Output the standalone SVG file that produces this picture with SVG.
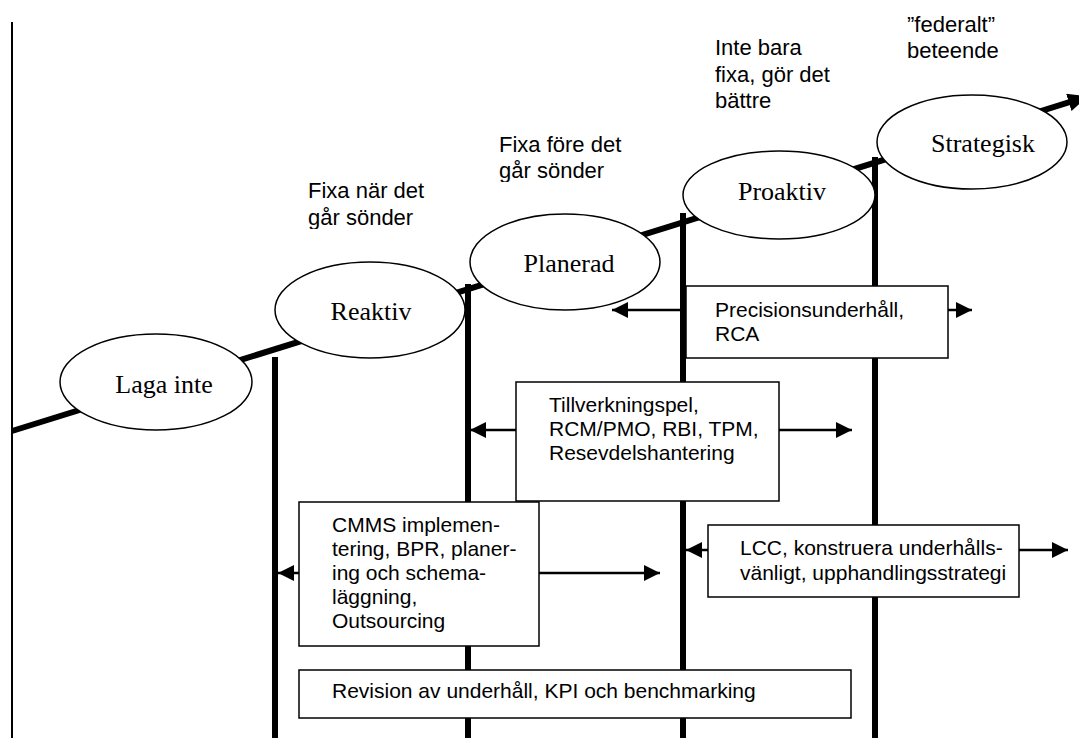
<svg xmlns="http://www.w3.org/2000/svg" width="1079" height="738" viewBox="0 0 1079 738">
  <defs>
    <marker id="arr" viewBox="0 0 16 16" refX="16" refY="8" markerWidth="16" markerHeight="16" markerUnits="userSpaceOnUse" orient="auto">
      <path d="M0,0 L16,8 L0,16 Z" fill="#000"/>
    </marker>
    <marker id="bigarr" viewBox="0 0 20 18" refX="18" refY="9" markerWidth="20" markerHeight="18" markerUnits="userSpaceOnUse" orient="auto">
      <path d="M0,0 L20,9 L0,18 Z" fill="#000"/>
    </marker>
    <clipPath id="clipA"><rect x="290" y="160" width="180" height="69"/></clipPath>
    <clipPath id="clipB"><rect x="480" y="110" width="180" height="72"/></clipPath>
    <style>
      .ell { fill: #fff; stroke: #000; stroke-width: 1.5; }
      .etxt { font-family: "Liberation Serif", "Times New Roman", serif; font-size: 26px; fill: #000; text-anchor: middle; }
      .lbl { font-family: "Liberation Sans", Arial, sans-serif; font-size: 22px; fill: #000; }
      .btxt { font-family: "Liberation Sans", Arial, sans-serif; font-size: 21px; fill: #000; }
      .box { fill: #fff; stroke: #000; stroke-width: 1.5; }
      .post { stroke: #000; stroke-width: 6; fill: none; }
      .arrow { stroke: #000; stroke-width: 2.5; fill: none; marker-end: url(#arr); }
    </style>
  </defs>
  <rect width="1079" height="738" fill="#fff"/>

  <!-- axis -->
  <line x1="12" y1="22" x2="12" y2="738" stroke="#000" stroke-width="2"/>

  <g id="connectors">
    <!-- rising maturity line -->
    <line x1="12" y1="431" x2="1086" y2="97" stroke="#000" stroke-width="6" marker-end="url(#bigarr)"/>
    <!-- level posts -->
    <line class="post" x1="275" y1="357" x2="275" y2="738"/>
    <line class="post" x1="468" y1="284" x2="468" y2="738"/>
    <line class="post" x1="683" y1="213" x2="683" y2="738"/>
    <line class="post" x1="875" y1="157" x2="875" y2="738"/>
    <!-- reach arrows -->
    <line class="arrow" x1="686" y1="310" x2="612" y2="310"/>
    <line class="arrow" x1="948" y1="310" x2="972" y2="310"/>
    <line class="arrow" x1="516" y1="430" x2="470" y2="430"/>
    <line class="arrow" x1="779" y1="430" x2="852" y2="430"/>
    <line class="arrow" x1="299" y1="573" x2="278" y2="573"/>
    <line class="arrow" x1="539" y1="573" x2="660" y2="573"/>
    <line class="arrow" x1="708" y1="550" x2="686" y2="550"/>
    <line class="arrow" x1="1019" y1="550" x2="1068" y2="550"/>
  </g>

  <g id="laga-inte">
    <ellipse class="ell" cx="156" cy="382" rx="96" ry="48"/>
    <text class="etxt" x="164" y="393">Laga inte</text>
  </g>
  <g id="reaktiv">
    <ellipse class="ell" cx="370" cy="310" rx="95" ry="48"/>
    <text class="etxt" x="371" y="320">Reaktiv</text>
  </g>
  <g id="planerad">
    <ellipse class="ell" cx="565" cy="262" rx="95" ry="48"/>
    <text class="etxt" x="569" y="272">Planerad</text>
  </g>
  <g id="proaktiv">
    <ellipse class="ell" cx="779" cy="195" rx="96" ry="44"/>
    <text class="etxt" x="782" y="200">Proaktiv</text>
  </g>
  <g id="strategisk">
    <ellipse class="ell" cx="972" cy="142" rx="95" ry="47"/>
    <text class="etxt" x="983" y="152">Strategisk</text>
  </g>

  <g id="label-reaktiv" clip-path="url(#clipA)">
    <text class="lbl" x="308" y="198">Fixa när det</text>
    <text class="lbl" x="308" y="225">går sönder</text>
  </g>
  <g id="label-planerad" clip-path="url(#clipB)">
    <text class="lbl" x="499" y="152">Fixa före det</text>
    <text class="lbl" x="499" y="178">går sönder</text>
  </g>
  <g id="label-proaktiv">
    <text class="lbl" x="715" y="55">Inte bara</text>
    <text class="lbl" x="715" y="82">fixa, gör det</text>
    <text class="lbl" x="715" y="108">bättre</text>
  </g>
  <g id="label-strategisk">
    <text class="lbl" x="907" y="32">”federalt”</text>
    <text class="lbl" x="907" y="58">beteende</text>
  </g>

  <g id="precision">
    <rect class="box" x="686" y="286" width="262" height="72"/>
    <text class="btxt" x="715" y="317">Precisionsunderhåll,</text>
    <text class="btxt" x="715" y="341">RCA</text>
  </g>
  <g id="tillverkning">
    <rect class="box" x="516" y="382" width="263" height="119"/>
    <text class="btxt" x="549" y="412">Tillverkningspel,</text>
    <text class="btxt" x="549" y="436">RCM/PMO, RBI, TPM,</text>
    <text class="btxt" x="549" y="460">Resevdelshantering</text>
  </g>
  <g id="cmms">
    <rect class="box" x="299" y="502" width="240" height="144"/>
    <text class="btxt" x="332" y="532">CMMS implemen-</text>
    <text class="btxt" x="332" y="556">tering, BPR, planer-</text>
    <text class="btxt" x="332" y="580">ing och schema-</text>
    <text class="btxt" x="332" y="604">läggning,</text>
    <text class="btxt" x="332" y="628">Outsourcing</text>
  </g>
  <g id="lcc">
    <rect class="box" x="708" y="525" width="311" height="72"/>
    <text class="btxt" x="740" y="555">LCC, konstruera underhålls-</text>
    <text class="btxt" x="740" y="580">vänligt, upphandlingsstrategi</text>
  </g>
  <g id="revision">
    <rect class="box" x="299" y="670" width="552" height="48"/>
    <text class="btxt" x="332" y="698">Revision av underhåll, KPI och benchmarking</text>
  </g>
</svg>
